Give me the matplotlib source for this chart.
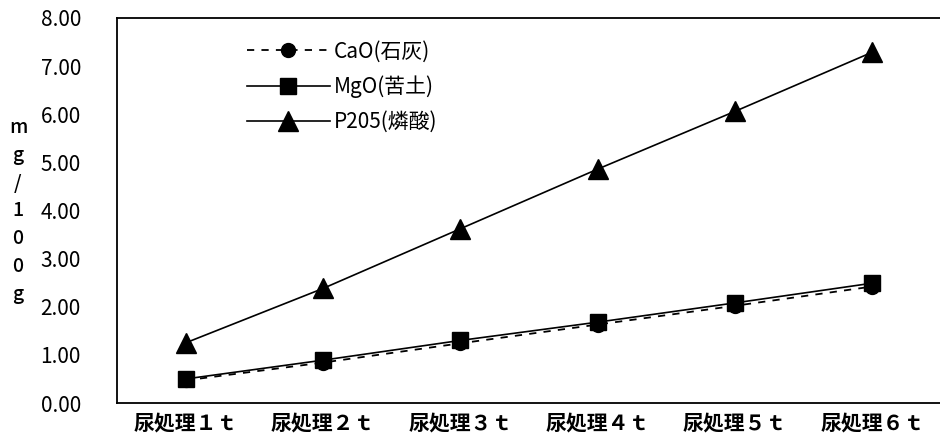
import matplotlib
matplotlib.use("Agg")
import matplotlib.pyplot as plt

plt.rcParams['font.family'] = ['Noto Sans CJK JP', 'DejaVu Sans']

categories = ["尿処理１ｔ", "尿処理２ｔ", "尿処理３ｔ", "尿処理４ｔ", "尿処理５ｔ", "尿処理６ｔ"]
cao = [0.47, 0.84, 1.24, 1.63, 2.02, 2.42]
mgo = [0.50, 0.89, 1.30, 1.68, 2.08, 2.49]
p2o5 = [1.25, 2.38, 3.62, 4.86, 6.06, 7.29]
yticks = [0, 1, 2, 3, 4, 5, 6, 7, 8]
series_names = ["CaO(石灰)", "MgO(苦土)", "P205(燐酸)"]

fig = plt.figure(figsize=(9.4, 4.4), dpi=100)
ax = fig.add_axes([117/940, 37/440, 824/940, 385/440])

x = list(range(len(categories)))
ax.plot(x, cao, color='black', lw=1.3, ls=(0, (4, 4)), marker='o', ms=10, label=series_names[0], zorder=3)
ax.plot(x, mgo, color='black', lw=1.2, marker='s', ms=11, label=series_names[1], zorder=4)
ax.plot(x, p2o5, color='black', lw=1.2, marker='^', ms=14, label=series_names[2], zorder=4)

ax.set_xlim(-0.5, 5.5)
ax.set_ylim(0, 8)
ax.set_yticks(yticks)
ax.set_yticklabels([f"{v:.2f}" for v in yticks], fontsize=15)
ax.set_xticks(x)
ax.set_xticklabels(categories, fontsize=15, fontweight='bold')
ax.tick_params(axis='y', length=0, pad=26)
ax.tick_params(axis='x', length=0, pad=7)
for s in ['left', 'top', 'bottom']:
    ax.spines[s].set_linewidth(1.3)
ax.spines['right'].set_visible(False)

fig.text(18/940, 1 - 211/440, "m\ng\n/\n1\n0\n0\ng", ha='center', va='center',
         fontsize=14, fontweight='medium', linespacing=1.58)

leg = ax.legend(loc='upper left', bbox_to_anchor=(0.137, 0.985), frameon=False,
                fontsize=15, handlelength=4.0, handletextpad=0.2, labelspacing=0.62,
                borderaxespad=0.4)

fig.savefig("out.png", dpi=100)
